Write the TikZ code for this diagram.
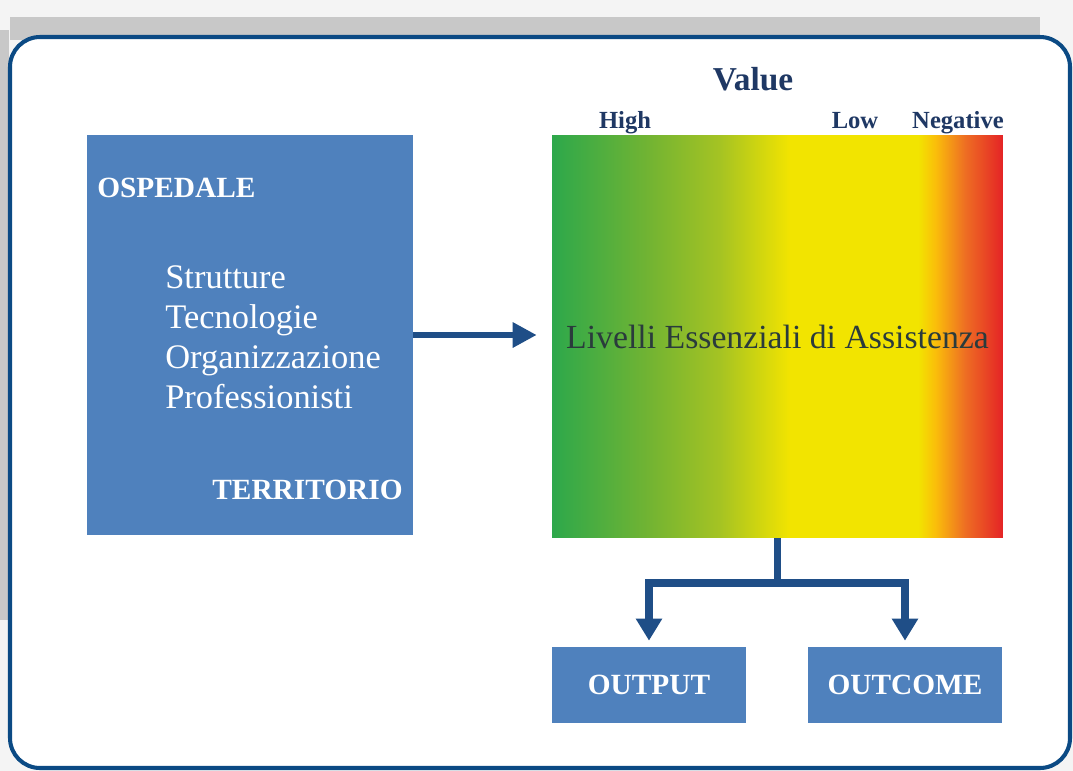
\documentclass[tikz,border=0pt]{standalone}
\usepackage{fontspec}
\setmainfont{Liberation Serif}
\usetikzlibrary{arrows.meta}
\definecolor{boxblue}{HTML}{4F81BD}
\definecolor{frameblue}{HTML}{0B4A84}
\definecolor{arrowblue}{HTML}{1F4E87}
\definecolor{titleblue}{HTML}{1F3864}
\definecolor{leatext}{HTML}{2A3B3C}
\definecolor{bandgray}{HTML}{C8C8C8}
\definecolor{outgray}{HTML}{F4F4F4}
\definecolor{leagreen}{RGB}{45,168,75}
\definecolor{leagreenb}{RGB}{115,180,50}
\definecolor{leaolive}{RGB}{165,195,35}
\definecolor{leayellow}{RGB}{242,228,0}
\definecolor{leaorange}{RGB}{250,190,10}
\definecolor{leaorangeb}{RGB}{238,110,35}
\definecolor{leared}{RGB}{228,35,38}
\pgfdeclarehorizontalshading{leashade}{100bp}{color(0bp)=(leagreen); color(25bp)=(leagreen); color(35.9bp)=(leagreenb); color(43.6bp)=(leaolive); color(51.4bp)=(leayellow); color(65.6bp)=(leayellow); color(67.5bp)=(leaorange); color(70.8bp)=(leaorangeb); color(75bp)=(leared); color(100bp)=(leared)}
\begin{document}
\begin{tikzpicture}[x=0.02cm, y=-0.02cm,
		bluebox/.style={fill=boxblue, inner sep=0pt, text=white},
		boldtext/.style={font=\fontsize{16.7}{20}\selectfont\bfseries, text=white},
		listtext/.style={font=\fontsize{19.6}{23}\selectfont, text=white, inner sep=0pt},
		scaletext/.style={font=\fontsize{14}{17}\selectfont\bfseries, text=titleblue, inner sep=0pt},
		flow/.style={draw=arrowblue, line width=4pt, -{Triangle[length=0.44cm, width=0.5cm]}}]
	\useasboundingbox (0,0) rectangle (1073,771);
	\fill[outgray] (0,0) rectangle (1073,771);
	\fill[bandgray] (10,17) rectangle (1040,40);
	\fill[bandgray] (0,30) rectangle (9,620);
	\draw[frameblue, line width=2.3pt, fill=white, rounded corners=0.6cm] (10,37) rectangle (1070,768);
	\node[bluebox, minimum width=6.52cm, minimum height=8cm] (hosp) at (250,335) {};
	\node[boldtext, anchor=base west, inner sep=0pt] (ospedale) at (97,197) {OSPEDALE};
	\node[boldtext, anchor=base east, inner sep=0pt] (territorio) at (403,499) {TERRITORIO};
	\foreach \word [count=\i] in {Strutture, Tecnologie, Organizzazione, Professionisti}
		\node[listtext, anchor=base west] (item\i) at (165,248+40*\i) {\word};
	\node[shading=leashade, inner sep=0pt, minimum width=9.02cm, minimum height=8.06cm,
		font=\fontsize{19.2}{23}\selectfont, text=leatext] (lea) at (777.5,336.5) {Livelli Essenziali di Assistenza};
	\node[font=\fontsize{19}{23}\selectfont\bfseries, text=titleblue, inner sep=0pt, anchor=base] (value) at (753,90) {Value};
	\node[scaletext, anchor=base] (high) at (625,128) {High};
	\node[scaletext, anchor=base] (low) at (855,128) {Low};
	\node[scaletext, anchor=base] (negative) at (958,128) {Negative};
	\node[bluebox, boldtext, minimum width=3.88cm, minimum height=1.52cm] (output) at (649,685) {OUTPUT};
	\node[bluebox, boldtext, minimum width=3.88cm, minimum height=1.52cm] (outcome) at (905,685) {OUTCOME};
	\coordinate (split) at (lea.south |- 0,583);
	\draw[flow, line width=3.4pt, -{Triangle[length=0.48cm, width=0.48cm]}, shorten >=0.3cm] (hosp.east) -- (lea.west |- hosp.east);
	\draw[flow, -] (lea.south) -- (split);
	\draw[flow, shorten >=0.12cm] (split) -| (output.north);
	\draw[flow, shorten >=0.12cm] (split) -| (outcome.north);
\end{tikzpicture}
\end{document}
